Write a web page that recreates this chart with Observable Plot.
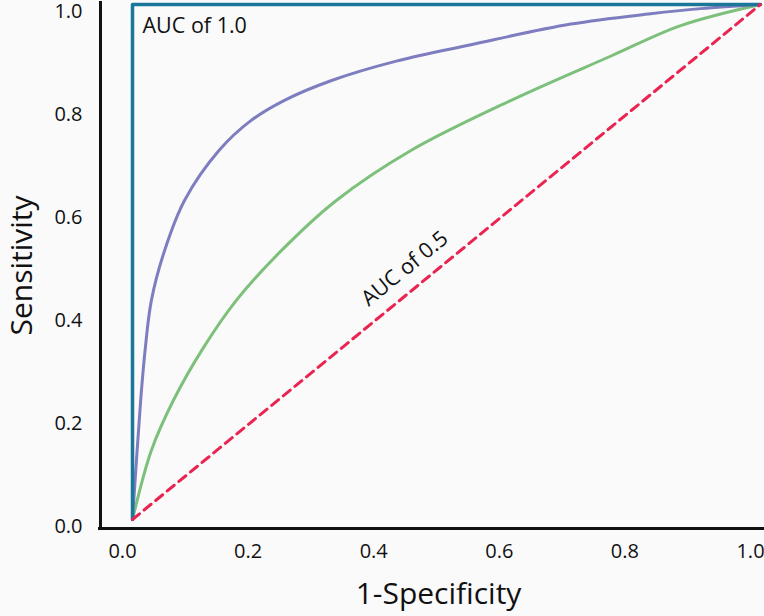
<!DOCTYPE html>
<html>
<head>
<meta charset="utf-8">
<script src="https://cdn.jsdelivr.net/npm/d3@7"></script>
<script src="https://cdn.jsdelivr.net/npm/@observablehq/plot@0.6"></script>
<style>
  html, body { margin: 0; padding: 0; background: #fafafa; }
  #chart svg { display: block; background: #fafafa; }
</style>
</head>
<body>
<div id="chart"></div>
<script>
// ---- data ----
const xTicks = [0, 0.2, 0.4, 0.6, 0.8, 1.0];
const yTicks = [0, 0.2, 0.4, 0.6, 0.8, 1.0];

const perfectX = [0, 0, 1];
const perfectY = [0, 1, 1];

const purpleX = [0, 0.013, 0.020, 0.030, 0.051, 0.083, 0.138, 0.189, 0.242, 0.316, 0.42, 0.539, 0.698, 0.825, 0.905, 1.0];
const purpleY = [0, 0.231, 0.328, 0.425, 0.522, 0.620, 0.717, 0.775, 0.814, 0.852, 0.890, 0.922, 0.962, 0.982, 0.992, 1.0];

const greenX = [0, 0.030, 0.065, 0.110, 0.165, 0.237, 0.324, 0.444, 0.603, 0.762, 0.873, 1.0];
const greenY = [0, 0.134, 0.231, 0.328, 0.425, 0.522, 0.619, 0.717, 0.814, 0.900, 0.959, 1.0];

const chanceX = [0, 1];
const chanceY = [0, 1];

const labelPerfect = "AUC of 1.0";
const labelChance = "AUC of 0.5";
const xLabel = "1-Specificity";
const yLabel = "Sensitivity";

const toPts = (xs, ys) => xs.map((x, i) => ({x, y: ys[i]}));

const font = "'Open Sans', 'Noto Sans', sans-serif";

const chart = Plot.plot({
  width: 764,
  height: 616,
  marginLeft: 132,
  marginRight: 4,
  marginTop: 4,
  marginBottom: 97,
  style: {background: "#fafafa", fontFamily: font, color: "#111"},
  x: {domain: [0, 1]},
  y: {domain: [0, 1]},
  marks: [
    Plot.frame({anchor: "left", insetLeft: -32, insetBottom: -9, insetTop: -2, stroke: "#111", strokeWidth: 3}),
    Plot.frame({anchor: "bottom", insetLeft: -33, insetBottom: -9, insetRight: -2, stroke: "#111", strokeWidth: 3}),
    Plot.axisX({ticks: xTicks, tickSize: 0, tickPadding: 24, tickFormat: d3.format(".1f"), fontSize: 20, dx: -10, label: null}),
    Plot.axisY({ticks: yTicks, tickSize: 0, tickPadding: 50, tickFormat: d3.format(".1f"), fontSize: 20, dy: 7, label: null}),
    Plot.line(toPts(greenX, greenY), {x: "x", y: "y", stroke: "#7dc07b", strokeWidth: 3, curve: "catmull-rom"}),
    Plot.line(toPts(purpleX, purpleY), {x: "x", y: "y", stroke: "#7e7dc0", strokeWidth: 3, curve: "catmull-rom"}),
    Plot.line(toPts(perfectX, perfectY), {x: "x", y: "y", stroke: "#1a7799", strokeWidth: 3.5}),
    Plot.line(toPts(chanceX, chanceY), {x: "x", y: "y", stroke: "#ea2450", strokeWidth: 3, strokeDasharray: "9,6"}),
    Plot.text([labelPerfect], {frameAnchor: "top-left", dx: 10, dy: 22, textAnchor: "start", lineAnchor: "middle", fontSize: 21.5, fill: "#111"}),
    Plot.text([labelChance], {x: () => 0.455, y: () => 0.455, dx: -13.5, dy: -16.5, rotate: -39.3, textAnchor: "middle", lineAnchor: "middle", fontSize: 21.5, fill: "#111"}),
    Plot.text([xLabel], {frameAnchor: "bottom", dx: -8, dy: 75, textAnchor: "middle", lineAnchor: "middle", fontSize: 30, fill: "#111"}),
    Plot.text([yLabel], {frameAnchor: "left", dx: -110, dy: 3.5, rotate: -90, textAnchor: "middle", lineAnchor: "middle", fontSize: 30, fill: "#111"})
  ]
});
document.getElementById("chart").appendChild(chart);
</script>
</body>
</html>
